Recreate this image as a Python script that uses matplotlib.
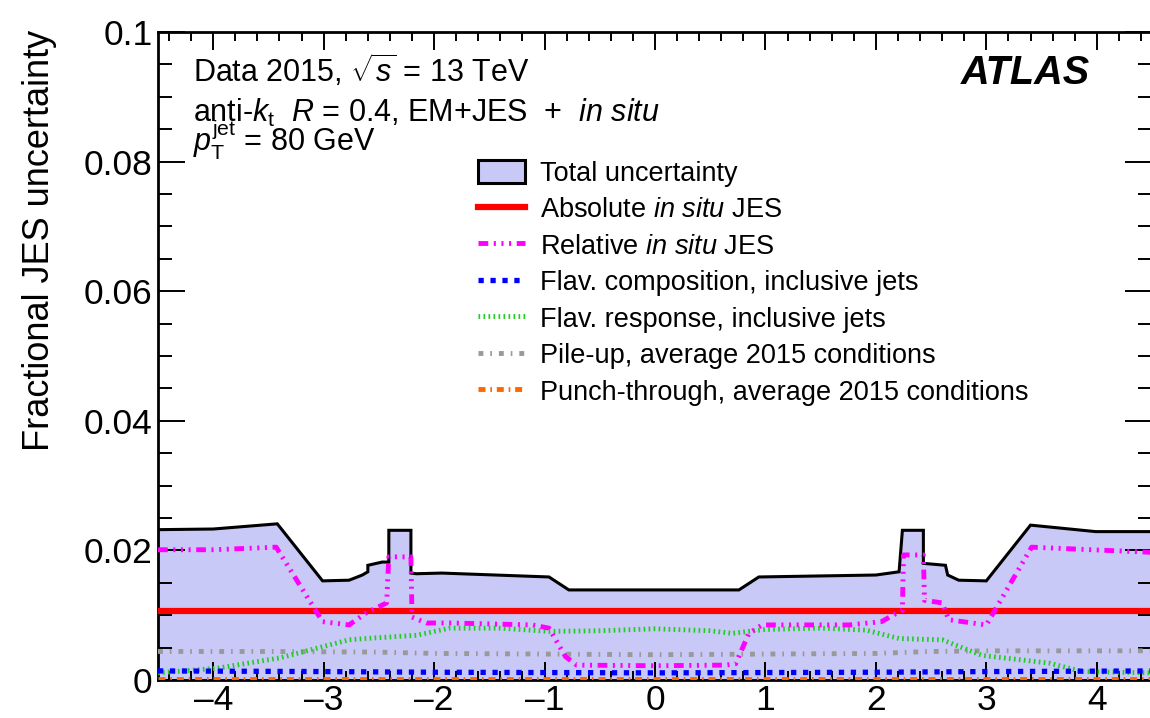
import matplotlib
matplotlib.use("Agg")
import matplotlib.pyplot as plt
from matplotlib.patches import Patch
from matplotlib.ticker import MultipleLocator, FuncFormatter

plt.rcParams['font.family'] = ['Liberation Sans', 'DejaVu Sans']
plt.rcParams['mathtext.fontset'] = 'custom'
plt.rcParams['mathtext.rm'] = 'Liberation Sans'
plt.rcParams['mathtext.it'] = 'Liberation Sans:italic'
plt.rcParams['mathtext.bf'] = 'Liberation Sans:bold'
plt.rcParams['lines.scale_dashes'] = False

# ---- data ----
x_tot = [-4.5, -4.0, -3.42, -3.01, -2.77, -2.65, -2.60, -2.60, -2.47, -2.41, -2.41, -2.21, -2.21,
         -2.16, -1.93, -0.96, -0.78, -0.05, 0.76, 0.94, 2.0, 2.21, 2.24, 2.43, 2.43, 2.63, 2.65,
         2.75, 3.0, 3.4, 3.99, 4.5]
y_tot = [0.0232, 0.0233, 0.0241, 0.0153, 0.0154, 0.0162, 0.0167, 0.0177, 0.0182, 0.0182, 0.0231,
         0.0231, 0.0165, 0.0164, 0.0165, 0.0159, 0.0139, 0.0139, 0.0139, 0.0159, 0.0162, 0.0167,
         0.0231, 0.0231, 0.0180, 0.0177, 0.0162, 0.0154, 0.0153, 0.0239, 0.0229, 0.0229]

x_abs = [-4.5, 4.5]
y_abs = [0.0106, 0.0106]

x_rel = [-4.5, -4.0, -3.43, -3.01, -2.77, -2.62, -2.43, -2.41, -2.21, -2.20, -2.07, -1.86, -1.11,
         -0.96, -0.81, -0.71, 0.0, 0.64, 0.73, 0.85, 0.97, 1.76, 2.05, 2.24, 2.25, 2.43, 2.44,
         2.6, 2.66, 3.0, 3.41, 4.5]
y_rel = [0.0201, 0.0201, 0.0205, 0.0090, 0.0085, 0.0103, 0.0119, 0.0190, 0.0190, 0.0097, 0.0088,
         0.0088, 0.0085, 0.0080, 0.0036, 0.0023, 0.0022, 0.0023, 0.0025, 0.0072, 0.0085, 0.0085,
         0.0090, 0.0108, 0.0193, 0.0193, 0.0123, 0.0119, 0.0093, 0.0085, 0.0205, 0.0197]

x_fc = [-4.5, -3.0, -2.0, 0.0, 2.0, 3.0, 4.5]
y_fc = [0.0014, 0.0013, 0.0012, 0.0011, 0.0012, 0.0013, 0.0014]

x_fr = [-4.5, -3.97, -3.4, -2.77, -2.62, -2.16, -1.86, -1.4, -0.96, -0.5, 0.0, 0.5, 0.70, 1.0,
        1.5, 1.91, 2.21, 2.6, 2.96, 3.57, 3.87, 4.5]
y_fr = [0.0011, 0.0018, 0.0034, 0.0062, 0.0064, 0.0069, 0.0080, 0.0080, 0.0075, 0.0076, 0.0079,
        0.0076, 0.0072, 0.0078, 0.0080, 0.0077, 0.0064, 0.0062, 0.0038, 0.0026, 0.0013, 0.0011]

x_pu = [-4.5, -3.5, -2.5, -2.0, -1.0, 0.0, 1.0, 2.0, 2.5, 3.0, 3.5, 4.5]
y_pu = [0.0044, 0.0044, 0.0043, 0.0041, 0.0040, 0.0039, 0.0040, 0.0041, 0.0044, 0.0045, 0.0045, 0.0045]

x_pt = [-4.5, 4.5]
y_pt = [0.0002, 0.0002]

x_ticks = [-4, -3, -2, -1, 0, 1, 2, 3, 4]
y_ticks = [0, 0.02, 0.04, 0.06, 0.08, 0.1]

labels = ["Total uncertainty",
          r"Absolute $\mathit{in\ situ}$ JES",
          r"Relative $\mathit{in\ situ}$ JES",
          "Flav. composition, inclusive jets",
          "Flav. response, inclusive jets",
          "Pile-up, average 2015 conditions",
          "Punch-through, average 2015 conditions"]

# ---- figure ----
W, H = 1150, 718
fig = plt.figure(figsize=(W / 100, H / 100), dpi=100)
ax = fig.add_axes([158 / W, 38 / H, 994 / W, 648 / H])

fill_col = '#c9c9f7'
ax.fill_between(x_tot, 0, y_tot, color=fill_col, lw=0, zorder=1)
ax.plot(x_tot, y_tot, color='black', lw=2.2, zorder=3, solid_joinstyle='miter')

l_pt, = ax.plot(x_pt, y_pt, color='#ff6600', lw=3.5, dashes=(5, 3.5, 1.2, 3.5), zorder=4)
l_fc, = ax.plot(x_fc, y_fc, color='#0000ff', lw=3.8, dashes=(3.8, 4.8), zorder=5)
l_pu, = ax.plot(x_pu, y_pu, color='#999999', lw=3.5, dashes=(3.5, 5, 1.2, 5), zorder=4)
l_fr, = ax.plot(x_fr, y_fr, color='#22cc22', lw=3.5, dashes=(1.2, 2.4), zorder=4)
l_abs, = ax.plot(x_abs, y_abs, color='#ff0000', lw=4.5, zorder=5)
l_rel, = ax.plot(x_rel, y_rel, color='#ff00ff', lw=3.5,
                 dashes=(7, 4, 1.5, 4, 1.5, 4, 1.5, 4), zorder=6)

ax.set_xlim(-4.5, 4.5)
ax.set_ylim(0, 0.1)
ax.set_xticks(x_ticks)
ax.set_yticks(y_ticks)
ax.xaxis.set_minor_locator(MultipleLocator(0.2))
ax.yaxis.set_minor_locator(MultipleLocator(0.005))
ax.yaxis.set_major_formatter(FuncFormatter(lambda v, p: f"{v:g}"))
ax.xaxis.set_major_formatter(FuncFormatter(lambda v, p: f"{v:g}".replace('-', '\u2013')))

ax.tick_params(axis='both', which='both', direction='in', top=True, right=True,
               width=1.4, labelsize=25.5, colors='black')
ax.tick_params(axis='x', which='major', length=13, pad=3)
ax.tick_params(axis='x', which='minor', length=6.5)
ax.tick_params(axis='y', which='major', length=19.5, pad=4)
ax.tick_params(axis='y', which='minor', length=10)
for s in ax.spines.values():
    s.set_linewidth(2)

fig.text(40 / W, 1 - 30 / H, "Fractional JES uncertainty", rotation=90,
         ha='center', va='top', fontsize=26)

fig.text(193 / W, 1 - 82 / H, r"Data 2015, $\sqrt{s}$ = 13 TeV", fontsize=22, va='baseline')
fig.text(193 / W, 1 - 122 / H,
         r"anti-$k_{\mathrm{t}}$  $R$ = 0.4, EM+JES  +  $\mathit{in\ situ}$",
         fontsize=22, va='baseline')
fig.text(193 / W, 1 - 151 / H, r"$p_{\mathrm{T}}^{\mathrm{jet}}$ = 80 GeV", fontsize=22,
         va='baseline')
fig.text(1090 / W, 1 - 84 / H, "ATLAS", fontsize=28.5, fontweight='bold', fontstyle='italic',
         ha='right', va='baseline')

handles = [Patch(facecolor=fill_col, edgecolor='black', lw=2.2),
           l_abs, l_rel, l_fc, l_fr, l_pu, l_pt]
leg = fig.legend(handles, labels, loc='upper left', bbox_to_anchor=(478 / W, 1 - 160 / H),
                 frameon=False, fontsize=19.5, borderpad=0, borderaxespad=0,
                 handlelength=1.73, handleheight=0.92, handletextpad=0.55, labelspacing=0.36)

fig.savefig("out.png", dpi=100)
